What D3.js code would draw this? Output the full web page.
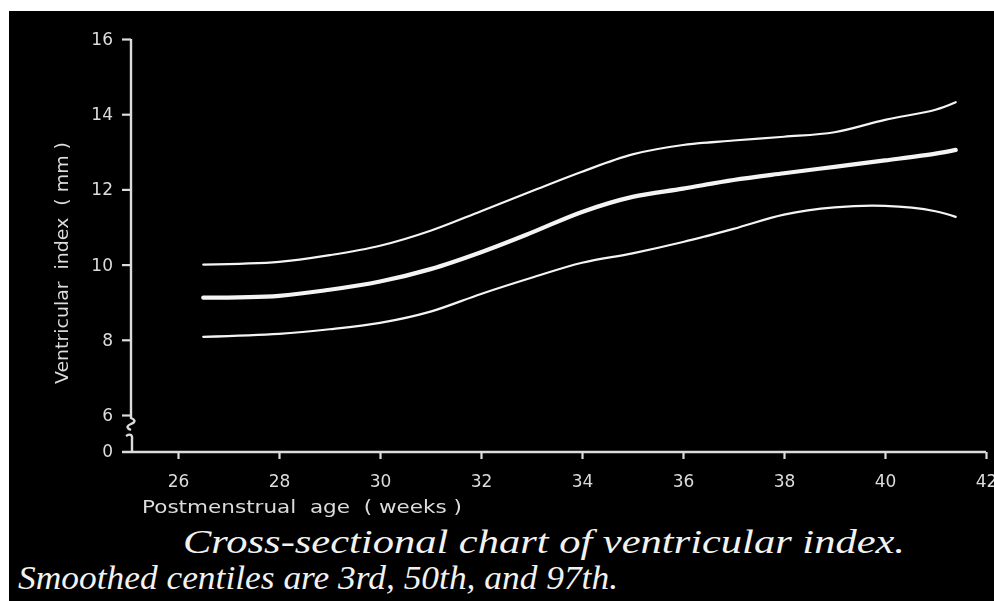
<!DOCTYPE html>
<html>
<head>
<meta charset="utf-8">
<script src="https://cdn.jsdelivr.net/npm/d3@7"></script>
<style>
  html, body { margin: 0; padding: 0; background: #fff; }
  svg { display: block; }
</style>
</head>
<body>
<div id="chart"></div>
<script>
// centile curves (ventricular index, mm)
const weeks = [26.5, 28, 29, 30, 31, 32, 33, 34, 35, 36, 37, 38, 39, 40, 41, 41.4];
const p97 = [10.0, 10.07, 10.25, 10.5, 10.9, 11.42, 11.95, 12.47, 12.93, 13.18, 13.3, 13.4, 13.52, 13.85, 14.12, 14.32];
const p50 = [9.12, 9.17, 9.33, 9.55, 9.88, 10.33, 10.85, 11.4, 11.8, 12.02, 12.25, 12.43, 12.6, 12.77, 12.95, 13.05];
const p3 = [8.08, 8.16, 8.28, 8.45, 8.75, 9.22, 9.65, 10.05, 10.3, 10.6, 10.95, 11.33, 11.52, 11.56, 11.42, 11.27];

const xTicks = [26, 28, 30, 32, 34, 36, 38, 40, 42];
const yTicks = [6, 8, 10, 12, 14, 16];

const W = 994, H = 601;
const svg = d3.select('#chart').append('svg').attr('width', W).attr('height', H);

// scanned slide: white margin on top and left
svg.append('rect').attr('width', W).attr('height', H).attr('fill', '#fff');
svg.append('rect').attr('x', 9).attr('y', 11).attr('width', W - 9).attr('height', H - 11).attr('fill', '#000');

const defs = svg.append('defs');
defs.append('filter').attr('id', 'soft')
  .append('feGaussianBlur').attr('stdDeviation', 0.6);

const x = d3.scaleLinear().domain([26, 42]).range([178, 986]);
const y = d3.scaleLinear().domain([6, 16]).range([415, 39]);
const axisX = 131;
const zeroY = y(6) + 37;   // the "0" below the axis break

const ink = '#dcdcdc';
const g = svg.append('g').attr('filter', 'url(#soft)');

// y axis
const ya = g.append('g').attr('transform', `translate(${axisX},0)`)
  .call(d3.axisLeft(y).tickValues(yTicks).tickSize(9).tickPadding(9).tickSizeOuter(0));
ya.select('.domain').remove();
ya.selectAll('.tick line').attr('stroke', ink).attr('stroke-width', 2.2);
ya.selectAll('.tick text').attr('fill', ink).attr('font-family', 'DejaVu Sans').attr('font-size', 17);

const b = y(6);
g.append('path')
  .attr('d', `M${axisX},${y(16)} V${b + 3} q7,3 0,6 q-7,3 0,6 M${axisX - 5},${b + 21} q7,-4 6,4 V${zeroY}`)
  .attr('fill', 'none').attr('stroke', ink).attr('stroke-width', 2.4);

g.append('text').attr('x', axisX - 18).attr('y', zeroY).attr('dy', '0.32em')
  .attr('text-anchor', 'end').attr('fill', ink)
  .attr('font-family', 'DejaVu Sans').attr('font-size', 17).text('0');

// x axis
const xa = g.append('g').attr('transform', `translate(0,${zeroY})`)
  .call(d3.axisBottom(x).tickValues(xTicks).tickSize(7).tickPadding(16).tickSizeOuter(0));
xa.select('.domain').remove();
xa.selectAll('.tick line').attr('stroke', ink).attr('stroke-width', 2.2);
xa.selectAll('.tick text').attr('fill', ink).attr('font-family', 'DejaVu Sans').attr('font-size', 17);

g.append('line')
  .attr('x1', axisX - 9).attr('x2', x(42)).attr('y1', zeroY).attr('y2', zeroY)
  .attr('stroke', ink).attr('stroke-width', 2.4);

// axis titles
g.append('text').attr('x', 142).attr('y', 513)
  .attr('fill', ink).attr('font-family', 'DejaVu Sans').attr('font-size', 17)
  .attr('textLength', 320).attr('lengthAdjust', 'spacingAndGlyphs')
  .text('Postmenstrual  age  ( weeks )').style('white-space', 'pre');

g.append('text').attr('transform', 'translate(68,263) rotate(-90)')
  .attr('text-anchor', 'middle').attr('fill', ink)
  .attr('font-family', 'DejaVu Sans').attr('font-size', 17)
  .attr('textLength', 242).attr('lengthAdjust', 'spacingAndGlyphs')
  .text('Ventricular  index  ( mm )').style('white-space', 'pre');

// centile curves
const line = d3.line()
  .x((d, i) => x(weeks[i]))
  .y(d => y(d))
  .curve(d3.curveCatmullRom.alpha(0.5));

const series = [
  { values: p97, width: 2.2 },
  { values: p50, width: 4.2 },
  { values: p3, width: 2.2 }
];

g.selectAll('path.centile').data(series).enter().append('path')
  .attr('class', 'centile')
  .attr('d', d => line(d.values))
  .attr('fill', 'none')
  .attr('stroke', '#f4f4f4')
  .attr('stroke-linecap', 'round')
  .attr('stroke-width', d => d.width);

// caption
const cap = svg.append('g').attr('fill', '#f2f2f2')
  .attr('font-family', '"Liberation Serif", "Times New Roman", serif')
  .attr('font-style', 'italic').attr('font-size', 34);
cap.append('text').attr('x', 183).attr('y', 553)
  .attr('textLength', 722).attr('lengthAdjust', 'spacingAndGlyphs')
  .text('Cross-sectional chart of ventricular index.');
cap.append('text').attr('x', 18).attr('y', 589)
  .attr('textLength', 600).attr('lengthAdjust', 'spacingAndGlyphs')
  .text('Smoothed centiles are 3rd, 50th, and 97th.');
</script>
</body>
</html>
